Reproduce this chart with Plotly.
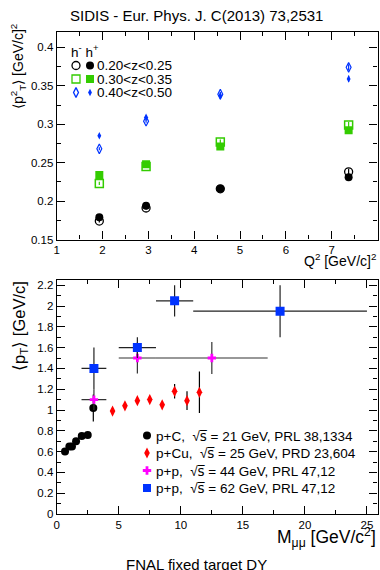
import plotly.graph_objects as go

# ---------------- top panel: SIDIS <pT^2> vs Q^2 ----------------
q2 = [1.93, 2.95, 4.57, 7.37]
hm_z1 = [0.174, 0.191, 0.216, 0.238]
hp_z1 = [0.179, 0.194, 0.216, 0.231]
hm_z2 = [0.223, 0.245, 0.277, 0.299]
hp_z2 = [0.234, 0.248, 0.271, 0.292]
hm_z3 = [0.268, 0.304, 0.339, 0.374]
hp_z3 = [0.285, 0.309, 0.337, 0.359]
small_err = [0.002, 0.002, 0.003, 0.004]
z_labels = ["0.20<z<0.25", "0.30<z<0.35", "0.40<z<0.50"]

# ---------------- bottom panel: FNAL DY <pT> vs M ----------------
pc_m = [0.67, 1.02, 1.23, 1.56, 2.02, 2.5, 2.95]
pc_pt = [0.60, 0.65, 0.65, 0.70, 0.75, 0.76, 1.02]
pc_err = [0.01, 0.01, 0.01, 0.01, 0.02, 0.03, 0.13]

pcu_m = [4.5, 5.5, 6.5, 7.5, 8.5, 9.5, 10.5, 11.5]
pcu_pt = [0.99, 1.04, 1.09, 1.10, 1.05, 1.18, 1.09, 1.17]
pcu_err = [0.03, 0.03, 0.03, 0.03, 0.03, 0.07, 0.09, 0.2]

pp44_m = [3.0, 6.5, 12.5]
pp44_pt = [1.10, 1.50, 1.50]
pp44_xerr = [1.0, 1.5, 4.5]
pp44_yerr = [0.10, 0.15, 0.155]

pp62_m = [3.0, 6.5, 9.5, 18.0]
pp62_pt = [1.40, 1.60, 2.05, 1.95]
pp62_xerr = [1.0, 1.5, 1.5, 7.0]
pp62_yerr = [0.20, 0.10, 0.15, 0.25]

SQRTS = "√<span style='font-family:DejaVu Sans'>s\u0305</span>"
dy_labels = ["p+C,  " + SQRTS + " = 21 GeV, PRL 38,1334",
             "p+Cu,  " + SQRTS + " = 25 GeV, PRD 23,604",
             "p+p,  " + SQRTS + " = 44 GeV, PRL 47,12",
             "p+p,  " + SQRTS + " = 62 GeV, PRL 47,12"]

W, H = 380, 570
FONT = "Liberation Sans, Arial, sans-serif"
GREEN = "#33cc00"
BLUE = "#0033ff"
fig = go.Figure()

def ey(arr, color="black", th=1.2):
    return dict(type="data", array=arr, visible=True, width=0, color=color, thickness=th)

# top panel traces
fig.add_trace(go.Scatter(x=q2, y=hm_z1, mode="markers", error_y=ey(small_err),
    marker=dict(symbol="circle-open", size=8, color="black", line=dict(width=1.3)), xaxis="x", yaxis="y"))
fig.add_trace(go.Scatter(x=q2, y=hp_z1, mode="markers", error_y=ey(small_err),
    marker=dict(symbol="circle", size=8, color="black"), xaxis="x", yaxis="y"))
fig.add_trace(go.Scatter(x=q2, y=hm_z2, mode="markers", error_y=ey(small_err, GREEN),
    marker=dict(symbol="square-open", size=8, color=GREEN, line=dict(width=1.5)), xaxis="x", yaxis="y"))
fig.add_trace(go.Scatter(x=q2, y=hp_z2, mode="markers", error_y=ey(small_err, GREEN),
    marker=dict(symbol="square", size=8, color=GREEN), xaxis="x", yaxis="y"))
fig.add_trace(go.Scatter(x=q2, y=hm_z3, mode="markers", error_y=ey(small_err, BLUE),
    marker=dict(symbol="diamond-tall-open", size=7, color=BLUE, line=dict(width=1.2)), xaxis="x", yaxis="y"))
fig.add_trace(go.Scatter(x=q2, y=hp_z3, mode="markers", error_y=ey(small_err, BLUE),
    marker=dict(symbol="diamond-tall", size=5.5, color=BLUE), xaxis="x", yaxis="y"))

# bottom panel traces
fig.add_trace(go.Scatter(x=pc_m, y=pc_pt, mode="markers", error_y=ey(pc_err),
    marker=dict(symbol="circle", size=8, color="black"), xaxis="x2", yaxis="y2"))
fig.add_trace(go.Scatter(x=pcu_m, y=pcu_pt, mode="markers", error_y=ey(pcu_err),
    marker=dict(symbol="diamond-tall", size=8, color="red"), xaxis="x2", yaxis="y2"))
fig.add_trace(go.Scatter(x=pp44_m, y=pp44_pt, mode="markers", error_y=ey(pp44_yerr, "#333"),
    error_x=dict(type="data", array=pp44_xerr, visible=True, width=0, color="#333", thickness=1.2),
    marker=dict(symbol="cross", size=7, color="#ff00ff"), xaxis="x2", yaxis="y2"))
fig.add_trace(go.Scatter(x=pp62_m, y=pp62_pt, mode="markers", error_y=ey(pp62_yerr, "#222"),
    error_x=dict(type="data", array=pp62_xerr, visible=True, width=0, color="#222", thickness=1.2),
    marker=dict(symbol="square", size=9, color=BLUE), xaxis="x2", yaxis="y2"))

# legend keys drawn on a pixel-space overlay axis
top_rows_y = [65.5, 79, 92.5]
open_syms = [("circle-open", 8, "black"), ("square-open", 8, GREEN), ("diamond-tall-open", 7, BLUE)]
fill_syms = [("circle", 8, "black"), ("square", 8, GREEN), ("diamond-tall", 5.5, BLUE)]
for i in range(3):
    s, sz, c = open_syms[i]
    fig.add_trace(go.Scatter(x=[76], y=[top_rows_y[i]], mode="markers",
        marker=dict(symbol=s, size=sz, color=c, line=dict(width=1.3)), xaxis="x3", yaxis="y3"))
    s, sz, c = fill_syms[i]
    fig.add_trace(go.Scatter(x=[90], y=[top_rows_y[i]], mode="markers",
        marker=dict(symbol=s, size=sz, color=c), xaxis="x3", yaxis="y3"))

bot_rows_y = [435.5, 453, 470.5, 488]
bot_syms = [("circle", 8, "black"), ("diamond-tall", 8, "red"), ("cross", 7, "#ff00ff"), ("square", 8, BLUE)]
for i in range(4):
    s, sz, c = bot_syms[i]
    fig.add_trace(go.Scatter(x=[147], y=[bot_rows_y[i]], mode="markers",
        marker=dict(symbol=s, size=sz, color=c), xaxis="x3", yaxis="y3"))

ann = []
def txt(x, y, t, size, xanchor="left", angle=0, yanchor="middle"):
    ann.append(dict(x=x, y=y, xref="x3", yref="y3", text=t, showarrow=False,
                    xanchor=xanchor, yanchor=yanchor, textangle=angle,
                    font=dict(family=FONT, size=size, color="black")))

txt(196, 15, "SIDIS - Eur. Phys. J. C(2013) 73,2531", 15, xanchor="center")
txt(69, 51, "h<sup>-</sup> h<sup>+</sup>", 13.5)
for i in range(3):
    txt(95, top_rows_y[i], z_labels[i], 13.5)
for i in range(4):
    txt(154, bot_rows_y[i], dy_labels[i], 13.5)
txt(18, 67, "⟨p<sup>2</sup><sub>T</sub>⟩ [GeV/c]<sup>2</sup>", 14, xanchor="center", angle=-90)
txt(20, 326, "⟨p<sub>T</sub>⟩ [GeV/c]", 16.5, xanchor="center", angle=-90)
txt(378, 260, "Q<sup>2</sup> [GeV/c]<sup>2</sup>", 14, xanchor="right")
txt(378, 537, "M<sub>μμ</sub> [GeV/c<sup>2</sup>]", 17.5, xanchor="right")
txt(196, 564, "FNAL fixed target DY", 15, xanchor="center")

x0, x1 = 56.7 / W, 377.5 / W
top_dom = [1 - 239.5 / H, 1 - 32 / H]
bot_dom = [1 - 514 / H, 1 - 280 / H]

axcommon = dict(showgrid=False, zeroline=False, showline=True, linecolor="black", linewidth=1.2,
                mirror="ticks", ticks="inside", ticklen=8, tickcolor="black", tickwidth=1,
                tickfont=dict(family=FONT, size=11.5, color="black"), automargin=False)

fig.update_layout(
    width=W, height=H, margin=dict(l=0, r=0, t=0, b=0),
    paper_bgcolor="white", plot_bgcolor="rgba(0,0,0,0)", showlegend=False,
    xaxis=dict(domain=[x0, x1], range=[1, 8], dtick=1, anchor="y",
               minor=dict(ticks="inside", dtick=0.5, ticklen=4, tickcolor="black"), **axcommon),
    yaxis=dict(domain=top_dom, range=[0.15, 0.42], dtick=0.05, tick0=0.15, anchor="x",
               minor=dict(ticks="inside", dtick=0.025, ticklen=4, tickcolor="black"), **axcommon),
    xaxis2=dict(domain=[x0, x1], range=[0, 25.85], dtick=5, anchor="y2",
                minor=dict(ticks="inside", dtick=2.5, ticklen=4, tickcolor="black"), **axcommon),
    yaxis2=dict(domain=bot_dom, range=[0, 2.25], dtick=0.2, anchor="x2",
                minor=dict(ticks="inside", dtick=0.1, ticklen=4, tickcolor="black"), **axcommon),
    xaxis3=dict(domain=[0, 1], range=[0, W], visible=False, anchor="y3", fixedrange=True),
    yaxis3=dict(domain=[0, 1], range=[H, 0], visible=False, anchor="x3", fixedrange=True),
    annotations=ann,
)

fig.write_html("out.html", config={"displayModeBar": False},
               post_script="document.body.style.margin='0';document.body.style.overflow='hidden';")
